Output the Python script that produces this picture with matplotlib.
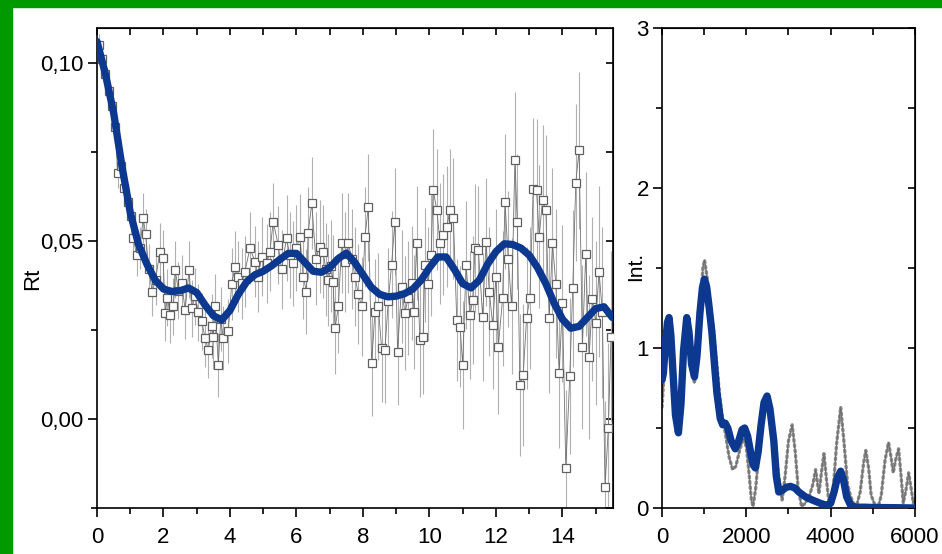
import matplotlib
matplotlib.use("Agg")
import matplotlib.pyplot as plt
from matplotlib.patches import Rectangle
from matplotlib.ticker import FuncFormatter, MultipleLocator

plt.rcParams['font.family'] = ['Liberation Sans', 'DejaVu Sans']

# ---- left panel: measured Rt with error bars ----
t_x = [0.05, 0.15, 0.25, 0.35, 0.45, 0.55, 0.62, 0.72, 0.82, 0.92, 1.02, 1.09, 1.19, 1.29, 1.39, 1.46,
       1.56, 1.66, 1.76, 1.89, 1.99, 2.05, 2.12, 2.20, 2.30, 2.35, 2.45, 2.55, 2.65, 2.77, 2.85, 2.95,
       3.05, 3.15, 3.25, 3.35, 3.45, 3.50, 3.55, 3.65, 3.72, 3.80, 3.95, 4.05, 4.15, 4.25, 4.35, 4.45,
       4.60, 4.75, 4.85, 4.95, 5.10, 5.20, 5.30, 5.45, 5.55, 5.70, 5.80, 5.90, 6.00, 6.10, 6.20, 6.30,
       6.35, 6.46, 6.58, 6.70, 6.80, 6.88, 6.96, 7.05, 7.10, 7.16, 7.26, 7.36, 7.46, 7.56, 7.66, 7.76,
       7.86, 7.96, 8.06, 8.16, 8.26, 8.36, 8.46, 8.56, 8.66, 8.76, 8.86, 8.96, 9.04, 9.16, 9.26, 9.36,
       9.46, 9.54, 9.61, 9.71, 9.81, 9.86, 9.96, 10.05, 10.11, 10.22, 10.32, 10.42, 10.52, 10.62, 10.72,
       10.82, 10.92, 11.00, 11.10, 11.22, 11.30, 11.37, 11.47, 11.60, 11.70, 11.80, 11.90, 12.00, 12.07,
       12.20, 12.27, 12.37, 12.47, 12.57, 12.64, 12.72, 12.82, 12.92, 13.02, 13.12, 13.22, 13.30, 13.40,
       13.50, 13.60, 13.70, 13.80, 13.90, 14.00, 14.10, 14.22, 14.31, 14.40, 14.50, 14.60, 14.70, 14.80,
       14.90, 15.00, 15.10, 15.20, 15.28, 15.38, 15.46]
t_y = [0.105, 0.101, 0.097, 0.092, 0.088, 0.082, 0.069, 0.071, 0.065, 0.061, 0.057, 0.0508, 0.0461,
       0.0480, 0.0564, 0.0519, 0.0420, 0.0358, 0.0390, 0.0470, 0.0451, 0.0298, 0.0340, 0.0292, 0.0316,
       0.0419, 0.0360, 0.0381, 0.0306, 0.0419, 0.0311, 0.0345, 0.0300, 0.0275, 0.0227, 0.0194, 0.0260,
       0.0231, 0.0316, 0.0152, 0.0280, 0.0227, 0.0248, 0.0379, 0.0428, 0.0400, 0.0381, 0.0414, 0.0480,
       0.0442, 0.0400, 0.0456, 0.0437, 0.0470, 0.0554, 0.0489, 0.0420, 0.0508, 0.0460, 0.0437, 0.0480,
       0.0512, 0.0400, 0.0358, 0.0522, 0.0606, 0.0450, 0.0484, 0.0470, 0.0420, 0.0390, 0.0430, 0.0386,
       0.0255, 0.0316, 0.0494, 0.0440, 0.0494, 0.0450, 0.0400, 0.0350, 0.0316, 0.0512, 0.0595, 0.0157,
       0.0300, 0.0316, 0.0199, 0.0194, 0.0330, 0.0433, 0.0554, 0.0189, 0.0372, 0.0297, 0.0340, 0.0381,
       0.0300, 0.0494, 0.0222, 0.0231, 0.0433, 0.0380, 0.0460, 0.0643, 0.0587, 0.0494, 0.0517, 0.0540,
       0.0587, 0.0564, 0.0278, 0.0259, 0.0152, 0.0433, 0.0292, 0.0334, 0.0480, 0.0475, 0.0287, 0.0498,
       0.0358, 0.0264, 0.0400, 0.0203, 0.0339, 0.0610, 0.0449, 0.0317, 0.0728, 0.0554, 0.0096, 0.0124,
       0.0283, 0.0339, 0.0645, 0.0643, 0.0512, 0.0615, 0.0587, 0.0283, 0.0494, 0.0380, 0.0128, 0.0325,
       -0.0139, 0.0121, 0.0367, 0.0664, 0.0754, 0.0203, 0.0463, 0.0173, 0.0338, 0.0270, 0.0414, 0.0300,
       -0.0190, -0.0026, 0.0231]
t_err = [0.003, 0.003, 0.003, 0.003, 0.004, 0.004, 0.004, 0.004, 0.005, 0.005, 0.005, 0.006, 0.006,
         0.006, 0.007, 0.007, 0.007, 0.007, 0.007, 0.008, 0.008, 0.008, 0.008, 0.008, 0.008, 0.008,
         0.008, 0.008, 0.008, 0.008, 0.008, 0.008, 0.008, 0.008, 0.008, 0.008, 0.009, 0.009, 0.009,
         0.009, 0.009, 0.009, 0.009, 0.010, 0.010, 0.010, 0.010, 0.010, 0.010, 0.010, 0.010, 0.011,
         0.011, 0.011, 0.011, 0.011, 0.011, 0.012, 0.012, 0.012, 0.012, 0.012, 0.012, 0.012, 0.013,
         0.013, 0.013, 0.013, 0.013, 0.013, 0.013, 0.013, 0.013, 0.013, 0.013, 0.014, 0.014, 0.014,
         0.014, 0.014, 0.014, 0.014, 0.014, 0.015, 0.015, 0.015, 0.015, 0.015, 0.015, 0.015, 0.015,
         0.015, 0.015, 0.016, 0.016, 0.016, 0.016, 0.016, 0.016, 0.016, 0.016, 0.016, 0.016, 0.017,
         0.017, 0.017, 0.017, 0.017, 0.017, 0.017, 0.017, 0.017, 0.017, 0.018, 0.018, 0.018, 0.018,
         0.018, 0.018, 0.018, 0.018, 0.018, 0.018, 0.019, 0.019, 0.019, 0.019, 0.019, 0.019, 0.019,
         0.019, 0.020, 0.020, 0.020, 0.020, 0.020, 0.020, 0.020, 0.021, 0.021, 0.021, 0.021, 0.021,
         0.021, 0.022, 0.022, 0.022, 0.022, 0.022, 0.022, 0.023, 0.023, 0.023, 0.023, 0.023, 0.024,
         0.024, 0.024, 0.024, 0.024]

# fitted curve (blue)
fit_x = [0.0, 0.25, 0.5, 0.75, 1.0, 1.25, 1.5, 1.75, 2.0, 2.25, 2.5, 2.75, 3.0, 3.25, 3.5, 3.75,
         4.0, 4.25, 4.5, 4.75, 5.0, 5.25, 5.5, 5.75, 6.0, 6.25, 6.5, 6.75, 7.0, 7.25, 7.5, 7.75,
         8.0, 8.25, 8.5, 8.75, 9.0, 9.25, 9.5, 9.75, 10.0, 10.25, 10.5, 10.75, 11.0, 11.25, 11.5,
         11.75, 12.0, 12.25, 12.5, 12.75, 13.0, 13.25, 13.5, 13.75, 14.0, 14.25, 14.5, 14.75, 15.0,
         15.25, 15.5]
fit_y = [0.106, 0.097, 0.086, 0.071, 0.058, 0.049, 0.0435, 0.039, 0.0365, 0.0358, 0.036, 0.0368,
         0.0355, 0.032, 0.029, 0.0278, 0.0305, 0.035, 0.0385, 0.0405, 0.0415, 0.043, 0.0448, 0.0465,
         0.0465, 0.044, 0.0415, 0.0412, 0.0425, 0.045, 0.0466, 0.044, 0.0405, 0.037, 0.035, 0.0343,
         0.0345, 0.0352, 0.0365, 0.039, 0.0425, 0.0455, 0.0455, 0.042, 0.038, 0.0368, 0.039, 0.0435,
         0.047, 0.0492, 0.049, 0.048, 0.046, 0.0425, 0.038, 0.0325, 0.028, 0.0255, 0.026, 0.0285,
         0.031, 0.0315, 0.0285]

# ---- right panel: intensity ----
int_gray_x = [0, 40, 90, 150, 200, 260, 320, 389, 450, 510, 580, 640, 700, 770, 840, 920, 970, 1008,
              1060, 1120, 1222, 1300, 1360, 1421, 1500, 1590, 1675, 1750, 1850, 1937, 2000, 2070, 2120,
              2159, 2220, 2300, 2400, 2492, 2560, 2620, 2690, 2760, 2849, 2920, 3000, 3087, 3160, 3230,
              3310, 3400, 3500, 3580, 3643, 3690, 3722, 3780, 3841, 3900, 3960, 4050, 4140, 4238, 4320,
              4400, 4476, 4560, 4600, 4700, 4780, 4833, 4900, 4960, 5032, 5120, 5200, 5290, 5373, 5430,
              5484, 5540, 5611, 5670, 5722, 5790, 5849, 5910, 5960, 6000]
int_gray_y = [0.63, 0.80, 1.02, 1.17, 1.12, 0.88, 0.60, 0.49, 0.66, 0.98, 1.18, 1.10, 0.88, 0.78, 0.95,
              1.30, 1.50, 1.55, 1.46, 1.32, 1.11, 0.90, 0.72, 0.59, 0.47, 0.32, 0.24, 0.26, 0.37, 0.435,
              0.38, 0.20, 0.05, 0.01, 0.12, 0.35, 0.58, 0.66, 0.55, 0.45, 0.40, 0.22, 0.05, 0.20, 0.42,
              0.52, 0.35, 0.12, 0.01, 0.03, 0.08, 0.15, 0.24, 0.15, 0.09, 0.22, 0.34, 0.18, 0.03, 0.08,
              0.40, 0.63, 0.40, 0.15, 0.07, 0.02, 0.00, 0.10, 0.28, 0.36, 0.25, 0.08, 0.03, 0.00, 0.08,
              0.30, 0.41, 0.32, 0.22, 0.30, 0.37, 0.20, 0.03, 0.12, 0.22, 0.12, 0.03, 0.05]
int_blue_x = [0, 32, 80, 130, 167, 210, 260, 320, 389, 450, 510, 587, 640, 700, 770, 830, 900, 960,
              1008, 1060, 1120, 1183, 1250, 1302, 1381, 1440, 1500, 1560, 1640, 1738, 1820, 1900, 1960,
              2030, 2100, 2160, 2214, 2280, 2350, 2420, 2492, 2560, 2651, 2710, 2770, 2850, 2950, 3048,
              3150, 3246, 3400, 3564, 3750, 3921, 4000, 4080, 4160, 4238, 4300, 4380, 4476, 4600, 4800,
              5000, 5500, 6000]
int_blue_y = [0.80, 0.84, 1.02, 1.16, 1.19, 1.08, 0.85, 0.58, 0.47, 0.65, 0.98, 1.19, 1.10, 0.90, 0.82,
              0.95, 1.22, 1.38, 1.43, 1.38, 1.25, 1.10, 0.88, 0.72, 0.56, 0.52, 0.53, 0.50, 0.42, 0.37,
              0.42, 0.49, 0.50, 0.45, 0.35, 0.27, 0.25, 0.35, 0.52, 0.66, 0.70, 0.62, 0.42, 0.20, 0.10,
              0.11, 0.13, 0.135, 0.125, 0.10, 0.07, 0.05, 0.03, 0.015, 0.03, 0.10, 0.19, 0.23, 0.18, 0.07,
              0.015, 0.005, 0.005, 0.003, 0.002, 0.0]

blue = '#0c388f'

fig = plt.figure(figsize=(9.42, 5.54), dpi=100)
fig.patches.append(Rectangle((0, 1 - 7 / 554), 1, 7 / 554, transform=fig.transFigure,
                             color='#009a00', zorder=0))
fig.patches.append(Rectangle((0, 0), 12 / 942, 1, transform=fig.transFigure,
                             color='#009a00', zorder=0))

ax1 = fig.add_axes([97 / 942, 1 - 508 / 554, 516 / 942, 480 / 554])
ax2 = fig.add_axes([662 / 942, 1 - 508 / 554, 253 / 942, 480 / 554])


def style(ax, xmaj, xmin, ymaj, ymin):
    for s in ax.spines.values():
        s.set_linewidth(1.2)
    ax.xaxis.set_major_locator(MultipleLocator(xmaj))
    ax.xaxis.set_minor_locator(MultipleLocator(xmin))
    ax.yaxis.set_major_locator(MultipleLocator(ymaj))
    ax.yaxis.set_minor_locator(MultipleLocator(ymin))
    ax.tick_params(which='both', direction='out', top=False, right=False,
                   labelsize=16, width=1.2)
    ax.tick_params(which='major', length=6.5)
    ax.tick_params(which='minor', length=4)
    ax.tick_params(axis='y', which='both', pad=3)
    ax.tick_params(axis='x', which='both', pad=7)
    top = ax.secondary_xaxis('top')
    top.xaxis.set_major_locator(MultipleLocator(xmaj))
    top.xaxis.set_minor_locator(MultipleLocator(xmin))
    top.tick_params(which='both', direction='in', labeltop=False, width=1.2, length=5)
    right = ax.secondary_yaxis('right')
    right.yaxis.set_major_locator(MultipleLocator(ymaj))
    right.yaxis.set_minor_locator(MultipleLocator(ymin))
    right.tick_params(which='both', direction='in', labelright=False, width=1.2, length=5)


# left panel
ax1.errorbar(t_x, t_y, yerr=t_err, fmt='none', ecolor='#b0b0b0', elinewidth=0.8, capsize=0, zorder=1)
ax1.plot(t_x, t_y, color='#707070', lw=0.6, zorder=2)
ax1.plot(t_x, t_y, 's', ms=5.8, mfc='white', mec='#606060', mew=0.9, zorder=3)
ax1.plot(fit_x, fit_y, color=blue, lw=5.3, solid_capstyle='round', solid_joinstyle='round', zorder=4)
ax1.set_xlim(0, 15.52)
ax1.set_ylim(-0.025, 0.1098)
style(ax1, 2, 1, 0.05, 0.025)
ax1.yaxis.set_major_formatter(FuncFormatter(lambda v, p: f"{v:.2f}".replace('.', ',')))
ax1.set_ylabel('Rt', fontsize=16)
ax1.yaxis.set_label_coords(-0.105, 0.477)

# right panel
ax2.plot(int_gray_x, int_gray_y, color='#8c8c8c', lw=2.4, linestyle=(0, (0.6, 1.0)),
         dash_capstyle='round', zorder=2)
ax2.plot(int_gray_x, int_gray_y, color='#6a6a6a', lw=0.6, zorder=2)
ax2.plot(int_blue_x, int_blue_y, color=blue, lw=5.3, solid_capstyle='round',
         solid_joinstyle='round', zorder=4)
ax2.set_xlim(0, 6000)
ax2.set_ylim(0, 3)
style(ax2, 2000, 1000, 1, 0.5)
ax2.set_ylabel('Int.', fontsize=15)
ax2.yaxis.set_label_coords(-0.067, 0.504)

fig.savefig('out.png', dpi=100)
